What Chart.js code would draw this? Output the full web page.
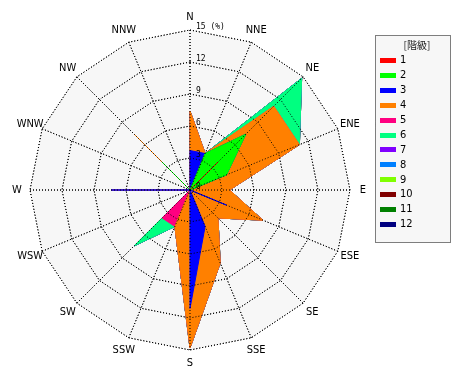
<!DOCTYPE html>
<html>
<head>
<meta charset="utf-8">
<script src="https://cdn.jsdelivr.net/npm/chart.js@4.4.1/dist/chart.umd.min.js"></script>
<style>
    html, body { margin: 0; padding: 0; background: #fff; }
    #wrap { width: 470px; height: 380px; }
</style>
</head>
<body>
<div id="wrap"><canvas id="rose" width="470" height="380"></canvas></div>
<script>
const directions = ["N", "NNE", "NE", "ENE", "E", "ESE", "SE", "SSE", "S", "SSW", "SW", "WSW", "W", "WNW", "NW", "NNW"];
const classLabels = ["1", "2", "3", "4", "5", "6", "7", "8", "9", "10", "11", "12"];
const classColors = ["#ff0000", "#00ff00", "#0000ff", "#ff8000", "#ff0080", "#00ff80",
    "#8000ff", "#0080ff", "#80ff00", "#800000", "#008000", "#000080"];

// frequency (%) of each class, by direction (N .. NNW)
const class1 = [0, 0, 3.7, 0, 0, 0, 0, 0, 0, 0, 0, 0, 0, 0, 0, 0];
const class2 = [0, 3.7, 3.7, 3.7, 0, 0, 0, 0, 0, 0, 0, 0, 0, 0, 3.7, 0];
const class3 = [3.7, 0, 0, 0, 0, 3.7, 0, 3.7, 11.1, 0, 0, 0, 7.4, 0, 0, 0];
const class4 = [3.7, 0, 3.7, 7.4, 3.7, 3.7, 3.7, 3.7, 3.7, 3.7, 0, 0, 0, 0, 3.7, 0];
const class5 = [0, 0, 0, 0, 0, 0, 0, 0, 0, 0, 3.7, 0, 0, 0, 0, 0];
const class6 = [0, 0, 3.7, 0, 0, 0, 0, 0, 0, 0, 3.7, 0, 0, 0, 0, 0];
const class7 = [0, 0, 0, 0, 0, 0, 0, 0, 0, 0, 0, 0, 0, 0, 0, 0];
const class8 = [0, 0, 0, 0, 0, 0, 0, 0, 0, 0, 0, 0, 0, 0, 0, 0];
const class9 = [0, 0, 0, 0, 0, 0, 0, 0, 0, 0, 0, 0, 0, 0, 0, 0];
const class10 = [0, 0, 0, 0, 0, 0, 0, 0, 0, 0, 0, 0, 0, 0, 0, 0];
const class11 = [0, 0, 0, 0, 0, 0, 0, 0, 0, 0, 0, 0, 0, 0, 0, 0];
const class12 = [0, 0, 0, 0, 0, 0, 0, 0, 0, 0, 0, 0, 0, 0, 0, 0];

const SCALE_MAX = 15;
const SCALE_STEP = 3;

const classSeries = [class1, class2, class3, class4, class5, class6,
    class7, class8, class9, class10, class11, class12];

// each class is drawn as the running total up to that class, so
// lower classes sit inside the higher ones
function buildDatasets() {
    const running = directions.map(() => 0);
    return classSeries.map((values, idx) => {
        values.forEach((v, i) => {
            running[i] = Math.round((running[i] + v) * 100) / 100;
        });
        return {
            label: classLabels[idx],
            data: running.slice(),
            backgroundColor: classColors[idx],
            borderColor: classColors[idx],
            borderWidth: 1,
            pointRadius: 0,
            pointHoverRadius: 0,
            fill: "origin"
        };
    });
}

const LABEL_FONT = '11px "Liberation Sans Narrow", "DejaVu Sans Condensed", "Liberation Sans", sans-serif';
const TICK_FONT = '8px "DejaVu Sans Mono", monospace';

const overlayPlugin = {
    id: "overlay",
    afterDatasetsDraw(chart) {
        const scale = chart.scales.r;
        const ctx = chart.ctx;

        // grid sits on top of the filled areas
        scale.drawGrid();

        ctx.save();
        ctx.fillStyle = "#000";
        ctx.font = LABEL_FONT;
        ctx.textAlign = "center";
        ctx.textBaseline = "middle";
        directions.forEach((name, i) => {
            const pos = scale.getPointPosition(i, scale.drawingArea + 13);
            ctx.fillText(name, pos.x, pos.y);
        });

        ctx.font = TICK_FONT;
        ctx.textAlign = "left";
        const last = scale.ticks.length - 1;
        scale.ticks.forEach((tick, i) => {
            const r = scale.getDistanceFromCenterForValue(tick.value);
            const text = i === last ? tick.value + " (%)" : String(tick.value);
            ctx.fillText(text, scale.xCenter + 6, scale.yCenter - r - 3);
        });
        ctx.restore();
    },
    afterDraw(chart) {
        const ctx = chart.ctx;
        const box = { x: 375.5, y: 35.5, w: 75, h: 207 };

        ctx.save();
        ctx.fillStyle = "#f7f7f7";
        ctx.fillRect(box.x, box.y, box.w, box.h);
        ctx.strokeStyle = "#000";
        ctx.lineWidth = 1;
        ctx.setLineDash([1, 1]);
        ctx.strokeRect(box.x, box.y, box.w, box.h);
        ctx.setLineDash([]);

        ctx.fillStyle = "#222";
        ctx.font = '10px "Noto Sans CJK JP", sans-serif';
        ctx.textAlign = "center";
        ctx.textBaseline = "middle";
        ctx.fillText("[階級]", 417, 45);

        ctx.font = LABEL_FONT;
        ctx.textAlign = "left";
        chart.data.datasets.forEach((ds, i) => {
            const y = 60 + i * 14.9;
            ctx.fillStyle = ds.backgroundColor;
            ctx.fillRect(380, Math.round(y) - 2, 16, 5);
            ctx.fillStyle = "#000";
            ctx.fillText(ds.label, 400, y + 0.5);
        });
        ctx.restore();
    }
};

new Chart(document.getElementById("rose"), {
    type: "radar",
    data: {
        labels: directions,
        datasets: buildDatasets()
    },
    options: {
        responsive: false,
        animation: false,
        devicePixelRatio: 1,
        layout: {
            padding: { left: 30, top: 30, right: 120, bottom: 30 }
        },
        elements: {
            line: { tension: 0 }
        },
        scales: {
            r: {
                min: 0,
                max: SCALE_MAX,
                backgroundColor: "#f7f7f7",
                ticks: { display: false, stepSize: SCALE_STEP },
                pointLabels: { display: false },
                grid: { color: "#000", lineWidth: 1 },
                border: { dash: [1, 2] },
                angleLines: { color: "#000", lineWidth: 1, borderDash: [1, 2] }
            }
        },
        plugins: {
            legend: { display: false },
            tooltip: { enabled: false }
        }
    },
    plugins: [overlayPlugin]
});
</script>
</body>
</html>
